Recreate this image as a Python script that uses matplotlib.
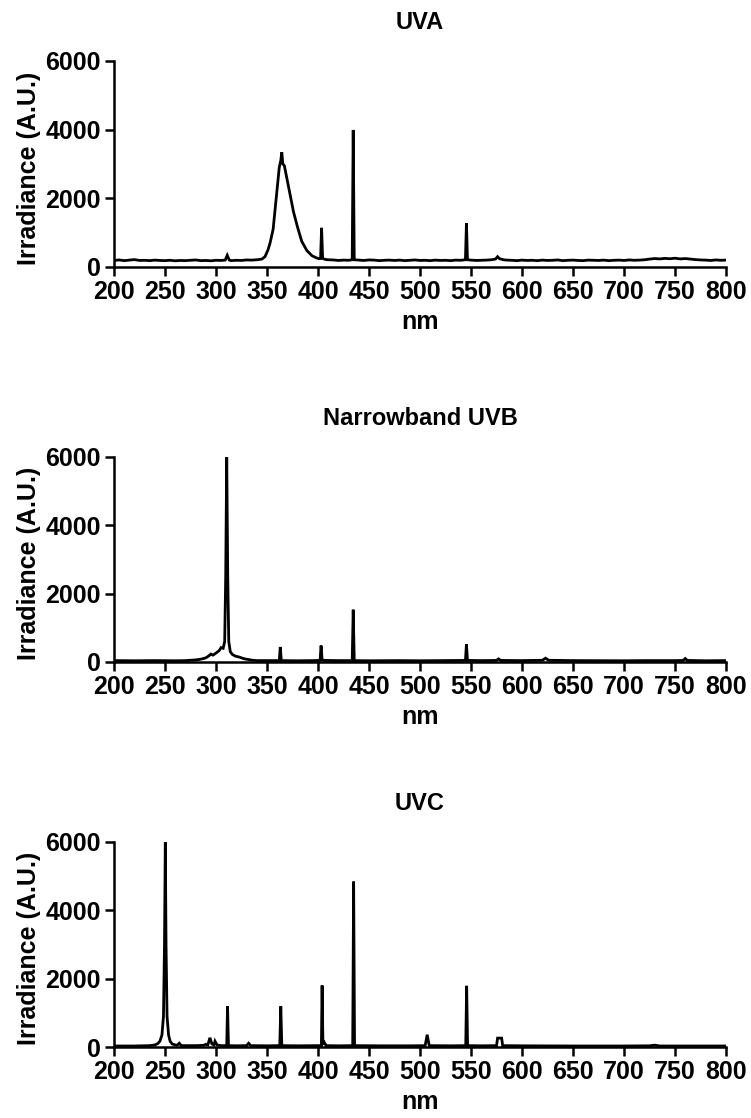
import numpy as np
import matplotlib
matplotlib.use('Agg')
import matplotlib.pyplot as plt

# spectres (nm, irradiance A.U.)
uva_nm = [200, 205, 210, 215, 220, 225, 230, 235, 240, 245, 250, 255, 260, 265, 270,
          275, 280, 285, 290, 295, 300, 305, 309, 311, 313, 315, 320, 325, 330, 335,
          340, 345, 348, 351, 353, 356, 358, 360, 362, 363.5, 364.5, 365.5, 367, 370,
          373, 376, 380, 384, 389, 394, 398, 401, 402.5, 403.5, 404.5, 407, 410, 415,
          420, 425, 430, 433.5, 434.5, 435.5, 440, 445, 450, 455, 460, 465, 470, 475,
          480, 485, 490, 495, 500, 505, 510, 515, 520, 525, 530, 535, 540, 544.5, 545.5,
          546.5, 550, 555, 560, 565, 570, 574, 576, 578, 582, 585, 590, 595, 600, 605,
          610, 615, 620, 625, 630, 635, 640, 645, 650, 655, 660, 665, 670, 675, 680,
          685, 690, 695, 700, 705, 710, 715, 720, 725, 730, 735, 740, 745, 750, 755,
          760, 765, 770, 775, 780, 785, 790, 795, 800]
uva_irr = [190, 205, 185, 200, 215, 190, 195, 185, 200, 190, 185, 195, 180, 190, 185,
           195, 205, 185, 190, 180, 195, 190, 200, 340, 200, 185, 195, 190, 205, 200,
           210, 230, 300, 500, 700, 1100, 1700, 2300, 2900, 3100, 3340, 3000, 2950, 2500,
           2050, 1600, 1150, 750, 480, 330, 270, 240, 250, 1140, 250, 220, 210, 205,
           190, 200, 195, 210, 3990, 210, 200, 190, 205, 200, 185, 195, 200, 190,
           200, 185, 195, 205, 190, 195, 185, 200, 190, 195, 185, 200, 195, 210, 1280,
           210, 200, 190, 195, 200, 210, 230, 300, 240, 210, 200, 195, 185, 200, 190,
           195, 185, 200, 190, 195, 205, 185, 195, 200, 190, 185, 200, 195, 190, 200,
           185, 195, 200, 190, 205, 195, 200, 210, 230, 245, 235, 250, 240, 255, 235,
           245, 230, 215, 205, 200, 190, 205, 195, 200]

nbuvb_nm = [200, 220, 240, 260, 270, 280, 285, 290, 293, 295, 297, 300, 303, 305, 307,
            308.5, 309.5, 310.5, 311.5, 312.5, 314, 316, 319, 322, 325, 328, 332, 336,
            340, 350, 362, 363, 364, 380, 395, 402, 403, 404, 406, 420, 433.5, 434.5,
            435.5, 450, 480, 500, 520, 544.5, 545.5, 546.5, 560, 575, 577, 579, 600,
            620, 623, 626, 650, 700, 720, 750, 758, 760, 762, 780, 800]
nbuvb_irr = [40, 35, 40, 35, 40, 60, 80, 120, 180, 230, 200, 260, 330, 420, 400,
             600, 2500, 6000, 2500, 600, 300, 220, 170, 150, 120, 90, 70, 50,
             40, 40, 40, 440, 40, 35, 40, 45, 480, 60, 45, 40, 40, 1530,
             40, 35, 40, 35, 40, 45, 520, 45, 40, 45, 90, 45, 40,
             50, 110, 50, 40, 35, 40, 40, 45, 100, 45, 35, 40]

uvc_nm = [200, 220, 235, 240, 243, 245, 247, 248.5, 249.5, 250.3, 251, 252, 253.5, 255,
          257, 260, 262, 264, 266, 280, 288, 290, 292, 294, 296, 298, 299, 301, 305,
          310.5, 311.3, 312.2, 320, 330, 332, 334, 350, 362.5, 363.5, 364.5, 380, 400,
          403.3, 404, 404.8, 406, 408, 420, 434, 434.9, 435.8, 460, 490, 505, 507, 509,
          530, 544.8, 545.7, 546.6, 560, 575, 576, 580, 581, 600, 650, 700, 725, 730,
          735, 800]
uvc_irr = [30, 30, 40, 60, 100, 170, 350, 900, 3000, 6000, 3000, 900, 350, 170,
           90, 60, 50, 110, 40, 40, 50, 80, 60, 270, 90, 60, 170, 60, 40,
           40, 1190, 40, 35, 40, 110, 40, 35, 40, 1190, 40, 35, 40,
           40, 1800, 100, 140, 40, 35, 40, 4840, 40, 35, 35, 40, 360, 40,
           35, 40, 1790, 40, 35, 40, 260, 260, 40, 35, 30, 30, 35, 55,
           30, 30]

titres = ['UVA', 'Narrowband UVB', 'UVC']
series = [(uva_nm, uva_irr), (nbuvb_nm, nbuvb_irr), (uvc_nm, uvc_irr)]
xticks = np.arange(200, 801, 50)
yticks = [0, 2000, 4000, 6000]

# positions des axes (fraction de la figure)
positions = [[0.1518, 0.7612, 0.815, 0.1843],
             [0.1518, 0.4079, 0.815, 0.1834],
             [0.1518, 0.0635, 0.815, 0.1834]]

plt.rcParams['font.family'] = ['Liberation Sans', 'DejaVu Sans']

fig = plt.figure(figsize=(7.51, 11.18), dpi=100)

for i in range(3):
    ax = fig.add_axes(positions[i])
    x, y = series[i]
    ax.plot(x, y, color='black', linewidth=2.0, solid_joinstyle='miter')
    ax.set_xlim(200, 800)
    ax.set_ylim(0, 6000)
    ax.set_xticks(xticks)
    ax.set_yticks(yticks)
    for s in ['top', 'right']:
        ax.spines[s].set_visible(False)
    for s in ['left', 'bottom']:
        ax.spines[s].set_linewidth(1.8)
    ax.tick_params(direction='out', length=6.5, width=1.8, pad=3, labelsize=18)
    for lab in ax.get_xticklabels() + ax.get_yticklabels():
        lab.set_fontweight('bold')
    ax.set_title(titres[i], fontsize=17, fontweight='bold', pad=23)
    ax.set_xlabel('nm', fontsize=18, fontweight='bold', labelpad=4)
    ax.set_ylabel('Irradiance (A.U.)', fontsize=18, fontweight='bold')
    ax.yaxis.set_label_coords(-0.12, 0.48)

plt.savefig('out.png', dpi=100)
